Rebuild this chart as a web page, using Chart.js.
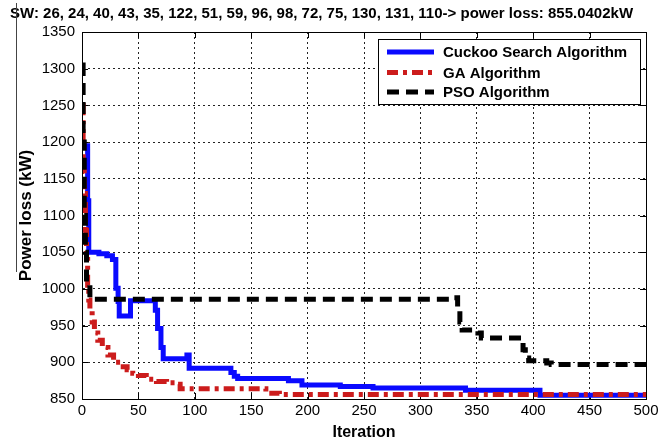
<!DOCTYPE html>
<html lang="en">
<head>
  <meta charset="UTF-8">
  <title>Power loss convergence</title>
  <script src="https://cdn.jsdelivr.net/npm/chart.js@4.4.1/dist/chart.umd.min.js"></script>
  <style>
    html, body { margin: 0; padding: 0; background: #fff; }
    #wrap { width: 670px; height: 442px; position: relative; }
  </style>
</head>
<body>
  <div id="wrap"><canvas id="loss-chart"></canvas></div>

  <script>
    // Data (iteration where each step starts, loss in kW)
    const iterCuckoo = [0, 5, 6, 15, 22, 27, 30, 32, 33, 43, 65, 67, 70, 72, 93, 95, 132, 135, 138, 183, 195, 229, 258, 340, 406, 500];
    const lossCuckoo = [1195, 1120, 1050, 1048, 1045, 1040, 1001, 983, 963, 984, 971, 946, 920, 905, 910, 892, 886, 881, 878, 875, 869, 867, 865, 862, 855, 855];

    const iterGA = [0, 1, 2, 3, 4, 5, 6, 7, 9, 11, 14, 18, 23, 28, 34, 40, 45, 50, 57, 66, 75, 84, 87, 163, 175, 500];
    const lossGA = [1250, 1160, 1130, 1080, 1040, 1005, 985, 970, 955, 940, 930, 920, 910, 900, 894, 890, 885, 882, 877, 874, 872, 870, 864, 858, 856, 856];

    const iterPSO = [0, 1, 2, 3, 4, 7, 326, 333, 335, 337, 351, 354, 391, 393, 396, 412, 416, 500];
    const lossPSO = [1305, 1200, 1100, 1050, 1008, 986, 988, 975, 955, 944, 940, 933, 917, 906, 902, 899, 897, 897];

    const seriesNames = ['Cuckoo Search Algorithm', 'GA Algorithm', 'PSO Algorithm'];
    const xTicks = [0, 50, 100, 150, 200, 250, 300, 350, 400, 450, 500];
    const yTicks = [850, 900, 950, 1000, 1050, 1100, 1150, 1200, 1250, 1300, 1350];
    const titleText = 'SW: 26, 24, 40, 43, 35, 122, 51, 59, 96, 98, 72, 75, 130, 131, 110-> power loss: 855.0402kW';

    const FONT = "'Liberation Sans', Arial, sans-serif";
    const colors = ['#0a0aff', '#cc1c1c', '#000000'];
    const dashes = [[], [11, 5, 4, 5], [12, 7]];

    function toPoints(xs, ys) {
      return xs.map((x, i) => ({ x: x, y: ys[i] }));
    }

    // Title, frame, inward ticks and legend box (MATLAB look)
    const matlabFrame = {
      id: 'matlabFrame',
      beforeDatasetsDraw(chart) {
        const { ctx, chartArea: a, scales } = chart;
        ctx.save();
        ctx.strokeStyle = '#000';
        ctx.lineWidth = 1;
        ctx.setLineDash([]);
        ctx.beginPath();
        xTicks.forEach(t => {
          const px = Math.round(scales.x.getPixelForValue(t)) + 0.5;
          ctx.moveTo(px, a.top); ctx.lineTo(px, a.top + 6);
          ctx.moveTo(px, a.bottom); ctx.lineTo(px, a.bottom - 6);
        });
        yTicks.forEach(t => {
          const py = Math.round(scales.y.getPixelForValue(t)) + 0.5;
          ctx.moveTo(a.left, py); ctx.lineTo(a.left + 6, py);
          ctx.moveTo(a.right, py); ctx.lineTo(a.right - 6, py);
        });
        ctx.stroke();
        ctx.restore();
      },
      afterDraw(chart) {
        const { ctx, chartArea: a } = chart;
        ctx.save();
        // frame
        ctx.strokeStyle = '#000';
        ctx.lineWidth = 1;
        ctx.strokeRect(Math.round(a.left) + 0.5, Math.round(a.top) + 0.5,
          Math.round(a.right - a.left), Math.round(a.bottom - a.top));

        // title
        ctx.fillStyle = '#000';
        ctx.font = 'bold 15px ' + FONT;
        ctx.textBaseline = 'alphabetic';
        ctx.textAlign = 'left';
        ctx.fillText(titleText, 10, 18, 652);

        // stray left rule from the original crop
        ctx.strokeStyle = '#444';
        ctx.beginPath();
        ctx.moveTo(16.5, 3); ctx.lineTo(16.5, 272);
        ctx.stroke();

        // legend
        const bx = 378, by = 39, bw = 262, bh = 65;
        ctx.fillStyle = '#fff';
        ctx.fillRect(bx, by, bw, bh);
        ctx.strokeStyle = '#000';
        ctx.strokeRect(bx + 0.5, by + 0.5, bw, bh);
        const rows = [52, 72.5, 92];
        seriesNames.forEach((name, i) => {
          ctx.strokeStyle = colors[i];
          ctx.lineWidth = 5;
          ctx.setLineDash(dashes[i]);
          ctx.beginPath();
          ctx.moveTo(387, rows[i]); ctx.lineTo(434, rows[i]);
          ctx.stroke();
          ctx.setLineDash([]);
          ctx.fillStyle = '#000';
          ctx.font = 'bold 15px ' + FONT;
          ctx.textBaseline = 'middle';
          ctx.fillText(name, 443, rows[i] + 1);
        });
        ctx.restore();
      }
    };

    const datasets = [
      { pts: toPoints(iterCuckoo, lossCuckoo), order: 3 },
      { pts: toPoints(iterGA, lossGA), order: 2 },
      { pts: toPoints(iterPSO, lossPSO), order: 1 }
    ].map((d, i) => ({
      label: seriesNames[i],
      data: d.pts,
      order: d.order,
      borderColor: colors[i],
      backgroundColor: colors[i],
      borderWidth: 5,
      borderDash: dashes[i],
      stepped: 'before',   // hold the previous value, then jump at the next iteration
      pointRadius: 0,
      fill: false
    }));

    new Chart(document.getElementById('loss-chart'), {
      type: 'line',
      data: { datasets: datasets },
      options: {
        responsive: true,
        maintainAspectRatio: false,
        animation: false,
        layout: { padding: { top: 32, right: 24, left: 0, bottom: 0 } },
        plugins: {
          legend: { display: false },
          tooltip: { enabled: false }
        },
        scales: {
          x: {
            type: 'linear',
            min: 0, max: 500,
            afterFit: s => { s.height = 43; },
            afterBuildTicks: s => { s.ticks = xTicks.map(v => ({ value: v })); },
            grid: { color: '#222', lineWidth: 1, drawTicks: false },
            border: { display: true, color: '#000', dash: [2, 3] },
            ticks: { color: '#000', font: { family: FONT, size: 15 }, padding: 3, maxRotation: 0, callback: v => String(v) },
            title: { display: true, text: 'Iteration', color: '#000', font: { family: FONT, size: 16, weight: 'bold' }, padding: { top: 0, bottom: 0 } }
          },
          y: {
            min: 850, max: 1350,
            afterFit: s => { s.width = 82; },
            afterBuildTicks: s => { s.ticks = yTicks.map(v => ({ value: v })); },
            grid: { color: '#222', lineWidth: 1, drawTicks: false },
            border: { display: true, color: '#000', dash: [2, 3] },
            ticks: { color: '#000', font: { family: FONT, size: 15 }, padding: 7, callback: v => String(v) },
            title: { display: true, text: 'Power loss (kW)', color: '#000', font: { family: FONT, size: 17, weight: 'bold' }, padding: { top: 16, bottom: 0 } }
          }
        }
      },
      plugins: [matlabFrame]
    });
  </script>
</body>
</html>
